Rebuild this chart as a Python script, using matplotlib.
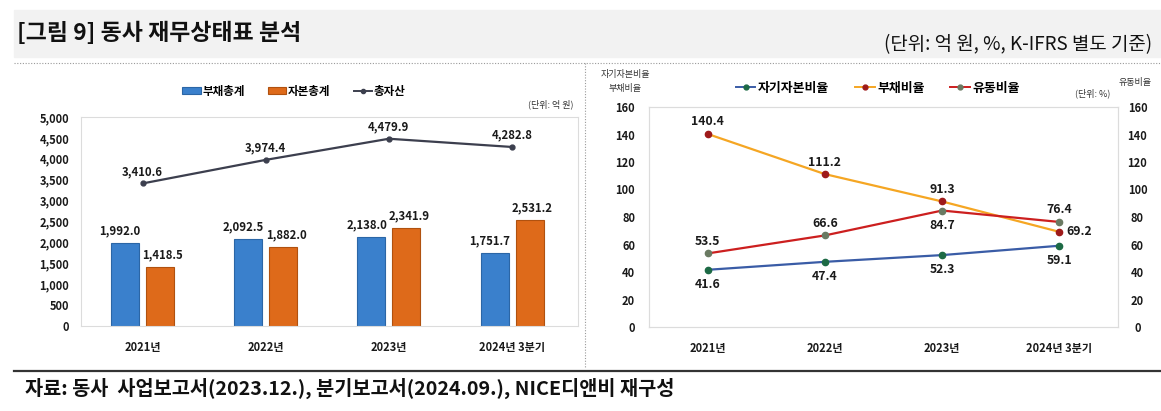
import matplotlib
matplotlib.use('Agg')
import matplotlib.pyplot as plt
import numpy as np
from matplotlib.patches import Rectangle, Patch
from matplotlib.lines import Line2D

plt.rcParams['font.family'] = ['Noto Sans CJK KR', 'DejaVu Sans']

# ---------------- data ----------------
categories = ['2021년', '2022년', '2023년', '2024년 3분기']
liabilities = [1992.0, 2092.5, 2138.0, 1751.7]      # 부채총계
equity = [1418.5, 1882.0, 2341.9, 2531.2]           # 자본총계
total_assets = [3410.6, 3974.4, 4479.9, 4282.8]     # 총자산
equity_ratio = [41.6, 47.4, 52.3, 59.1]             # 자기자본비율
debt_ratio = [140.4, 111.2, 91.3, 69.2]             # 부채비율
current_ratio = [53.5, 66.6, 84.7, 76.4]            # 유동비율
left_yticks = [0, 500, 1000, 1500, 2000, 2500, 3000, 3500, 4000, 4500, 5000]
right_yticks = [0, 20, 40, 60, 80, 100, 120, 140, 160]

W, H = 1161, 411
fig = plt.figure(figsize=(W / 100, H / 100), dpi=100)


def fx(x):
    return x / W


def fy(y):
    return 1 - y / H


def box(l, t, r, b):
    return [fx(l), fy(b), (r - l) / W, (b - t) / H]


TXT = '#1a1a1a'

# ---------------- page decorations ----------------
fig.patches.append(Rectangle((fx(14), fy(57)), (W - 14) / W, 47 / H,
                             transform=fig.transFigure, color='#f2f2f2', zorder=0))
fig.text(fx(17), fy(33), '[그림 9] 동사 재무상태표 분석', fontsize=16.5,
         fontweight='bold', color='#111111', va='center', ha='left')
fig.text(fx(1152), fy(45), '(단위: 억 원, %, K-IFRS 별도 기준)', fontsize=13.6,
         color='#111111', va='center', ha='right')
fig.add_artist(Line2D([fx(14), 1.0], [fy(63), fy(63)], transform=fig.transFigure,
                      ls=(0, (1, 1.5)), color='#9a9a9a', lw=0.8))
fig.add_artist(Line2D([fx(585), fx(585)], [fy(63), fy(368)], transform=fig.transFigure,
                      ls=(0, (1, 1.5)), color='#9a9a9a', lw=0.8))
fig.add_artist(Line2D([fx(14), 1.0], [fy(371), fy(371)], transform=fig.transFigure,
                      color='#333333', lw=1.6))
fig.text(fx(25), fy(388), '자료: 동사  사업보고서(2023.12.), 분기보고서(2024.09.), NICE디앤비 재구성',
         fontsize=14.2, fontweight='bold', color='#111111', va='center', ha='left')

# ---------------- left chart ----------------
ax1 = fig.add_axes(box(81, 117, 578, 326))
x = np.arange(len(categories))
blue, blue_e = '#3a80cc', '#2b66a6'
orange, orange_e = '#de6a1a', '#b0510f'
bw = 0.227
off = 0.142
ax1.bar(x - off, liabilities, width=bw, color=blue, edgecolor=blue_e, linewidth=0.8, zorder=2)
ax1.bar(x + off, equity, width=bw, color=orange, edgecolor=orange_e, linewidth=0.8, zorder=2)
ax1.plot(x, total_assets, color='#3c3f4e', lw=1.6, marker='o', ms=3.5, zorder=3)
ax1.set_xlim(-0.5, 3.535)
ax1.set_ylim(0, 5000)
ax1.set_yticks(left_yticks)
ax1.set_yticklabels([f'{v:,}' for v in left_yticks])
ax1.set_xticks(x)
ax1.set_xticklabels(categories)
ax1.tick_params(axis='y', length=0, pad=8.5, labelsize=8, labelcolor=TXT)
ax1.tick_params(axis='x', length=0, pad=11, labelsize=8, labelcolor=TXT)
for lab in ax1.get_xticklabels() + ax1.get_yticklabels():
    lab.set_fontweight('bold')
for s in ax1.spines.values():
    s.set_color('#dcdcdc')
    s.set_linewidth(0.8)

for i in range(len(categories)):
    ax1.annotate(f'{liabilities[i]:,.1f}', (x[i] - off, liabilities[i]), xytext=(-3.5, 4),
                 textcoords='offset points', ha='center', va='bottom', fontsize=8.2,
                 fontweight='bold', color=TXT)
    ax1.annotate(f'{equity[i]:,.1f}', (x[i] + off, equity[i]), xytext=(2, 4),
                 textcoords='offset points', ha='center', va='bottom', fontsize=8.2,
                 fontweight='bold', color=TXT)
    ax1.annotate(f'{total_assets[i]:,.1f}', (x[i], total_assets[i]), xytext=(0, 4),
                 textcoords='offset points', ha='center', va='bottom', fontsize=8.2,
                 fontweight='bold', color=TXT)

ax1.text(0.99, 1.035, '(단위: 억 원)', transform=ax1.transAxes, ha='right', va='bottom',
         fontsize=6.5, color='#333333')

h1 = [Patch(facecolor=blue, edgecolor=blue_e, lw=0.8),
      Patch(facecolor=orange, edgecolor=orange_e, lw=0.8),
      Line2D([], [], color='#3c3f4e', lw=1.4, marker='o', ms=3)]
fig.legend(h1, ['부채총계', '자본총계', '총자산'], loc='center',
           bbox_to_anchor=(fx(294), fy(91)), ncol=3, frameon=False,
           handlelength=1.6, handleheight=0.5, handletextpad=0.15,
           columnspacing=2.0, prop={'weight': 'bold', 'size': 8.3})

# ---------------- right chart ----------------
ax2 = fig.add_axes(box(649, 107, 1118, 327))
ax2r = ax2.twinx()
c_eq_line, c_eq_mk = '#3a5ca6', '#1d6a45'
c_debt_line, c_debt_mk = '#f5a623', '#9e1a1a'
c_cur_line, c_cur_mk = '#cc1f1f', '#6a7a62'
ax2.plot(x, equity_ratio, color=c_eq_line, lw=1.6, marker='o', ms=4.5,
         mfc=c_eq_mk, mec=c_eq_mk, zorder=3)
ax2.plot(x, debt_ratio, color=c_debt_line, lw=1.6, marker='o', ms=4.5,
         mfc=c_debt_mk, mec=c_debt_mk, zorder=3)
ax2r.plot(x, current_ratio, color=c_cur_line, lw=1.6, marker='o', ms=4.5,
          mfc=c_cur_mk, mec=c_cur_mk, zorder=3)
for a in (ax2, ax2r):
    a.set_xlim(-0.5, 3.5)
    a.set_ylim(0, 160)
    a.set_yticks(right_yticks)
    for s in a.spines.values():
        s.set_color('#dcdcdc')
        s.set_linewidth(0.8)
ax2.set_xticks(x)
ax2.set_xticklabels(categories)
ax2.tick_params(axis='y', length=0, pad=10, labelsize=8, labelcolor=TXT)
ax2.tick_params(axis='x', length=0, pad=11, labelsize=8, labelcolor=TXT)
ax2r.tick_params(axis='y', length=0, pad=14, labelsize=8, labelcolor=TXT)
for lab in ax2.get_xticklabels() + ax2.get_yticklabels():
    lab.set_fontweight('bold')
for lab in ax2r.get_yticklabels():
    lab.set_fontweight('bold')
    lab.set_ha('center')

lbl = dict(textcoords='offset points', ha='center', fontsize=8.8, fontweight='bold', color=TXT)
for i in range(len(categories)):
    ax2.annotate(f'{equity_ratio[i]:.1f}', (x[i], equity_ratio[i]), xytext=(0, -6),
                 va='top', **lbl)
    if i < 3:
        ax2.annotate(f'{debt_ratio[i]:.1f}', (x[i], debt_ratio[i]), xytext=(0, 4),
                     va='bottom', **lbl)
    else:
        ax2.annotate(f'{debt_ratio[i]:.1f}', (x[i], debt_ratio[i]), xytext=(5, 0),
                     textcoords='offset points', ha='left', va='center', fontsize=8.8,
                     fontweight='bold', color=TXT)
    if i == 2:
        ax2r.annotate(f'{current_ratio[i]:.1f}', (x[i], current_ratio[i]), xytext=(0, -6),
                      va='top', **lbl)
    else:
        ax2r.annotate(f'{current_ratio[i]:.1f}', (x[i], current_ratio[i]), xytext=(0, 4),
                      va='bottom', **lbl)

fig.text(fx(625), fy(74), '자기자본비율', fontsize=6.5, ha='center', va='center', color='#333333')
fig.text(fx(625), fy(88), '부채비율', fontsize=6.5, ha='center', va='center', color='#333333')
fig.text(fx(1135), fy(83), '유동비율', fontsize=6.5, ha='center', va='center', color='#333333')
fig.text(fx(1110), fy(93), '(단위: %)', fontsize=6.5, ha='right', va='center', color='#333333')

h2 = [Line2D([], [], color=c_eq_line, lw=1.4, marker='o', ms=3.5, mfc=c_eq_mk, mec=c_eq_mk),
      Line2D([], [], color=c_debt_line, lw=1.4, marker='o', ms=3.5, mfc=c_debt_mk, mec=c_debt_mk),
      Line2D([], [], color=c_cur_line, lw=1.4, marker='o', ms=3.5, mfc=c_cur_mk, mec=c_cur_mk)]
fig.legend(h2, ['자기자본비율', '부채비율', '유동비율'], loc='center',
           bbox_to_anchor=(fx(878), fy(88)), ncol=3, frameon=False,
           handlelength=1.5, handletextpad=0.2, columnspacing=2.0,
           prop={'weight': 'bold', 'size': 9.3})

fig.savefig('out.png', dpi=100)
